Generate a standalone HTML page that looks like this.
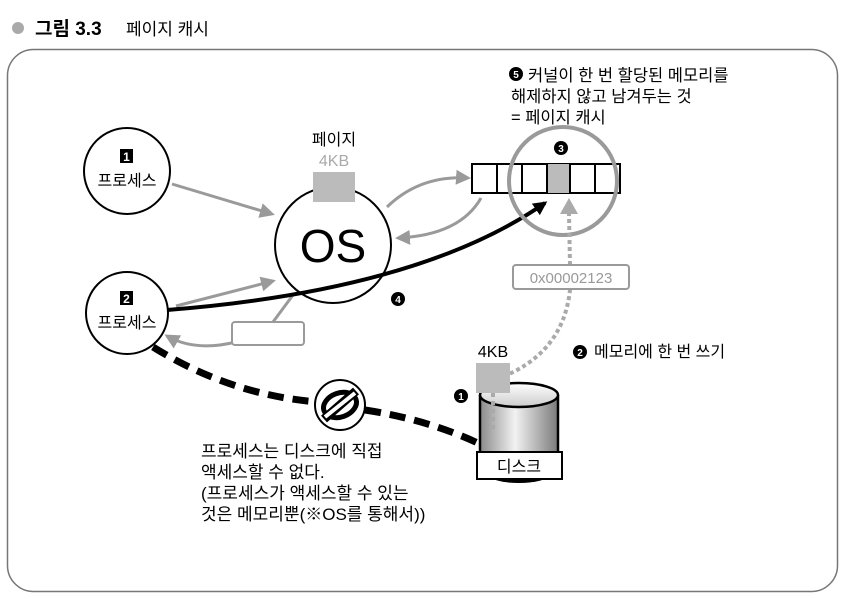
<!DOCTYPE html>
<html><head><meta charset="utf-8"><style>
html,body{margin:0;padding:0;background:#fff}
svg{display:block}
text{font-family:"Liberation Sans","Noto Sans CJK KR",sans-serif}
</style></head><body>
<svg width="846" height="599" viewBox="0 0 846 599" xmlns="http://www.w3.org/2000/svg">
<defs>
<marker id="ag" viewBox="0 0 10 10" refX="8" refY="5" markerWidth="5" markerHeight="5" orient="auto"><path d="M0,0 L10,5 L0,10 z" fill="#9a9a9a"/></marker>
<marker id="ab" viewBox="0 0 10 10" refX="8" refY="5" markerWidth="3.5" markerHeight="3.5" orient="auto"><path d="M0,0 L10,5 L0,10 z" fill="#000"/></marker>
<linearGradient id="cyl" x1="0" x2="1" y1="0" y2="0">
<stop offset="0" stop-color="#8a8a8a"/><stop offset="0.45" stop-color="#f2f2f2"/><stop offset="1" stop-color="#7a7a7a"/></linearGradient>
<linearGradient id="cyltop" x1="0" x2="0" y1="0" y2="1"><stop offset="0" stop-color="#fff"/><stop offset="1" stop-color="#ccc"/></linearGradient>
</defs>
<!-- title -->
<circle cx="18" cy="28" r="6" fill="#aaa"/>
<text x="35" y="35" font-size="19" font-weight="bold">그림 3.3</text>
<text x="126" y="35" font-size="17">페이지 캐시</text>
<rect x="7.5" y="49.5" width="830" height="542" rx="26" fill="none" stroke="#777" stroke-width="1.5"/>

<!-- text 5 -->
<circle cx="516" cy="74" r="7" fill="#000"/><text x="516" y="78" font-size="10" fill="#fff" text-anchor="middle" font-weight="bold">5</text>
<text x="528" y="81" font-size="16.5">커널이 한 번 할당된 메모리를</text>
<text x="511" y="102" font-size="16.5">해제하지 않고 남겨두는 것</text>
<text x="511" y="123" font-size="16.5">= 페이지 캐시</text>

<!-- process 1 -->
<circle cx="127" cy="171" r="43" fill="#fff" stroke="#000" stroke-width="2"/>
<rect x="120" y="149" width="13" height="14" fill="#000"/><text x="126.5" y="161" font-size="12" fill="#fff" text-anchor="middle" font-weight="bold">1</text>
<text x="127" y="186" font-size="16" text-anchor="middle">프로세스</text>
<!-- process 2 -->
<circle cx="127" cy="313" r="41" fill="#fff" stroke="#000" stroke-width="2"/>
<rect x="120" y="291" width="13" height="14" fill="#000"/><text x="126.5" y="303" font-size="12" fill="#fff" text-anchor="middle" font-weight="bold">2</text>
<text x="127" y="328" font-size="16" text-anchor="middle">프로세스</text>

<!-- gray arrows -->
<path d="M172,184 L272,214" stroke="#9a9a9a" stroke-width="3" fill="none" marker-end="url(#ag)"/>
<path d="M176,306 L273,281" stroke="#9a9a9a" stroke-width="3" fill="none" marker-end="url(#ag)"/>
<path d="M236,342 Q195,352 167,336" stroke="#9a9a9a" stroke-width="3" fill="none" marker-end="url(#ag)"/>
<path d="M273,322 L293,295" stroke="#9a9a9a" stroke-width="3" fill="none"/>
<path d="M387,207 Q420,175 468,178" stroke="#9a9a9a" stroke-width="3" fill="none" marker-end="url(#ag)"/>
<path d="M481,198 Q460,235 398,238" stroke="#9a9a9a" stroke-width="3" fill="none" marker-end="url(#ag)"/>

<!-- OS -->
<circle cx="333" cy="245" r="58" fill="#fff" stroke="#000" stroke-width="2"/>
<text x="333" y="262" font-size="46" text-anchor="middle">OS</text>
<rect x="313" y="172" width="42" height="30" fill="#bbb"/>
<text x="334" y="145" font-size="16" text-anchor="middle">페이지</text>
<text x="334" y="166" font-size="16" text-anchor="middle" fill="#aaa">4KB</text>
<rect x="232" y="322" width="72" height="23" rx="3" fill="#fff" stroke="#9a9a9a" stroke-width="2"/>

<!-- black arrow 4 -->
<path d="M167,310 Q420,290 545,203" stroke="#000" stroke-width="4" fill="none" marker-end="url(#ab)"/>
<circle cx="398" cy="299" r="7" fill="#000"/><text x="398" y="303" font-size="10" fill="#fff" text-anchor="middle" font-weight="bold">4</text>

<!-- cache array -->
<rect x="472" y="164" width="148" height="29" fill="#fff" stroke="#000" stroke-width="2"/>
<rect x="547" y="164" width="23" height="29" fill="#bbb"/>
<g stroke="#000" stroke-width="2"><line x1="497" y1="164" x2="497" y2="193"/><line x1="522" y1="164" x2="522" y2="193"/><line x1="547" y1="164" x2="547" y2="193"/><line x1="570" y1="164" x2="570" y2="193"/><line x1="595" y1="164" x2="595" y2="193"/></g>
<circle cx="563" cy="181" r="54" fill="none" stroke="#9a9a9a" stroke-width="4"/>
<circle cx="561" cy="148" r="7" fill="#000"/><text x="561" y="152" font-size="10" fill="#fff" text-anchor="middle" font-weight="bold">3</text>

<!-- dotted path -->
<path d="M497,379 Q563,355 570,290 L570,265 M570,265 L569,214" stroke="#aaa" stroke-width="4" stroke-dasharray="4,3" fill="none"/>
<path d="M560,214 L569,198 L578,214 z" fill="#aaa"/>
<rect x="513" y="265" width="116" height="24" rx="3" fill="#fff" stroke="#9a9a9a" stroke-width="2"/>
<text x="571" y="283" font-size="15" text-anchor="middle" fill="#999">0x00002123</text>
<circle cx="580" cy="352" r="7" fill="#000"/><text x="580" y="356" font-size="10" fill="#fff" text-anchor="middle" font-weight="bold">2</text>
<text x="594" y="357" font-size="16">메모리에 한 번 쓰기</text>

<!-- dashed black -->
<path d="M153,347 Q230,395 318,402 M365,410 Q430,420 482,445" stroke="#000" stroke-width="7" stroke-dasharray="16,9" fill="none"/>
<circle cx="340" cy="405" r="25" fill="#fff" stroke="#000" stroke-width="2"/>
<ellipse cx="340" cy="405" rx="17" ry="12" fill="none" stroke="#000" stroke-width="5" transform="rotate(-20 340 405)"/>
<path d="M324,419 L356,391" stroke="#000" stroke-width="9"/>
<path d="M325,417 L355,393" stroke="#fff" stroke-width="4"/>

<!-- disk -->
<path d="M480,395 L480,462 L558,462 L558,395" fill="url(#cyl)" stroke="#000" stroke-width="2.5"/>
<ellipse cx="519" cy="395" rx="39" ry="12" fill="url(#cyltop)" stroke="#000" stroke-width="2.5"/>
<ellipse cx="519" cy="475" rx="30" ry="8" fill="#000"/>
<rect x="477" y="452" width="85" height="27" fill="#fff" stroke="#000" stroke-width="2"/>
<text x="519" y="472" font-size="16" text-anchor="middle">디스크</text>
<rect x="476" y="363" width="34" height="30" fill="#bbb"/>
<path d="M493,393 L493,430" stroke="#aaa" stroke-width="4" stroke-dasharray="4,4"/>
<text x="493" y="357" font-size="16" text-anchor="middle">4KB</text>
<circle cx="461" cy="396" r="7" fill="#000"/><text x="461" y="400" font-size="10" fill="#fff" text-anchor="middle" font-weight="bold">1</text>

<!-- bottom text -->
<text x="201" y="457" font-size="17">프로세스는 디스크에 직접</text>
<text x="201" y="478" font-size="17">액세스할 수 없다.</text>
<text x="201" y="499" font-size="17">(프로세스가 액세스할 수 있는</text>
<text x="201" y="520" font-size="17">것은 메모리뿐(※OS를 통해서))</text>
</svg>
</body></html>
